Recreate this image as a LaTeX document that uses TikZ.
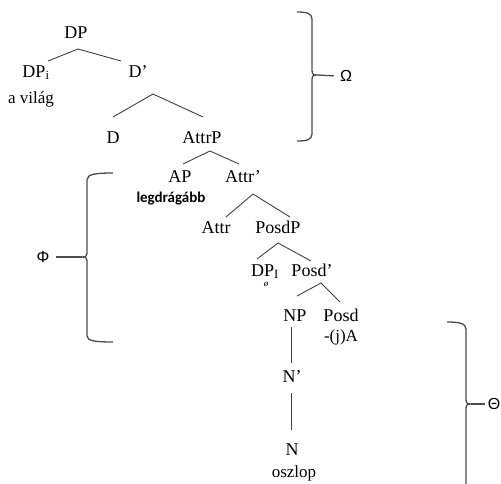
\documentclass[tikz,border=0pt]{standalone}
\usepackage{fontspec}
\setmainfont{Liberation Serif}
\newfontfamily\greekfont{Liberation Sans}
\newfontfamily\notefont{Carlito}
\usepackage{tikz}

\begin{document}
\begin{tikzpicture}[x=1pt,y=-1pt,
		cat/.style={anchor=base,inner sep=0pt,font=\fontsize{18}{20}\selectfont},
		word/.style={anchor=base,inner sep=0pt,font=\fontsize{17}{20}\selectfont},
		note/.style={anchor=base,inner sep=0pt,font=\notefont\bfseries\fontsize{15}{17}\selectfont},
		greek/.style={inner sep=2pt,font=\greekfont\fontsize{16}{18}\selectfont},
		branch/.style={draw=black!75,line width=0.9pt},
		brace/.style={draw=black!70,line width=1.3pt}]
	
	\useasboundingbox (0,0) rectangle (501,483);
	
	% tree
	\node[cat] (dp) at (76,38) {DP};
	\node[cat] (dpi) at (36,77) {DP\textsubscript{i}};
	\node[word] (vilag) at (31,103) {a világ};
	\node[cat] (dbar) at (138,77) {D’};
	\node[cat] (d) at (113,143) {D};
	\node[cat] (attrp) at (202,143) {AttrP};
	\node[cat] (ap) at (180,182) {AP};
	\node[note] (legd) at (171,202) {legdrágább};
	\node[cat] (attrbar) at (243,182) {Attr’};
	\node[cat] (attr) at (216,233) {Attr};
	\node[cat] (posdp) at (278,233) {PosdP};
	\node[cat] (dpone) at (265,276) {DP\textsubscript{I}};
	\node[anchor=base,inner sep=0pt,font=\itshape\fontsize{9}{10}\selectfont] (null) at (266,286) {ø};
	\node[cat] (posdbar) at (312,276) {Posd’};
	\node[cat] (np) at (295,321) {NP};
	\node[cat] (posd) at (341,321) {Posd};
	\node[word] (ja) at (341,341) {-(j)A};
	\node[cat] (nbar) at (292,382) {N’};
	\node[cat] (n) at (292,455) {N};
	\node[word] (oszlop) at (294,477) {oszlop};
	
	\draw[branch] ([xshift=12pt,yshift=16pt]dpi.base) -- ([xshift=2pt,yshift=-11pt]dp.base) -- ([xshift=-17pt,yshift=16pt]dbar.base);
	\draw[branch] ([yshift=26pt]d.base) -- ([xshift=15pt,yshift=-17pt]dbar.base) -- ([xshift=1pt,yshift=26pt]attrp.base);
	\draw[branch] ([xshift=3pt,yshift=18pt]ap.base) -- ([xshift=8pt,yshift=-8pt]attrp.base) -- ([xshift=-4pt,yshift=18pt]attrbar.base);
	\draw[branch] ([xshift=10pt,yshift=16pt]attr.base) -- ([xshift=10pt,yshift=-12pt]attrbar.base) -- ([xshift=12pt,yshift=16pt]posdp.base);
	\draw[branch] ([xshift=-8pt,yshift=17pt]dpone.base) -- ([yshift=-10pt]posdp.base) -- ([xshift=-1pt,yshift=15pt]posdbar.base);
	\draw[branch] ([xshift=2pt,yshift=25pt]np.base) -- ([xshift=9pt,yshift=-7pt]posdbar.base) -- ([xshift=-1pt,yshift=19pt]posd.base);
	\draw[branch] ([xshift=-4pt,yshift=-6pt]np.base) -- ([xshift=-1pt,yshift=19pt]nbar.base);
	\draw[branch] ([xshift=-1pt,yshift=-11pt]nbar.base) -- ([xshift=-1pt,yshift=25pt]n.base);
	
	% braces
	\node[greek] (omega) at (346,76) {Ω};
	\coordinate (otip) at (317,75);
	\draw[brace] (297,12) .. controls (306,12) and (312,13) .. (312,19) -- (312,70)
		.. controls (312,74) and (313,75) .. (otip) .. controls (313,75) and (312,76) .. (312,80)
		-- (312,134) .. controls (312,140) and (306,141) .. (297,141);
	\draw[brace,shorten >=4pt] (otip) -- (omega.west);
	
	\node[greek] (phi) at (43,257) {Φ};
	\coordinate (ptip) at (82,257);
	\draw[brace] (113,173) .. controls (96,173) and (87,174) .. (87,180) -- (87,252)
		.. controls (87,256) and (86,257) .. (ptip) .. controls (86,257) and (87,258) .. (87,262)
		-- (87,336) .. controls (87,341) and (96,342) .. (113,342);
	\draw[brace,shorten >=4pt] (ptip) -- (phi.east);
	
	\node[greek] (theta) at (494,404) {Θ};
	\coordinate (ttip) at (471,404);
	\draw[brace] (447,322) .. controls (458,322) and (466,323) .. (466,329) -- (466,399)
		.. controls (466,403) and (467,404) .. (ttip) .. controls (467,404) and (466,405) .. (466,409)
		-- (466,490);
	\draw[brace,shorten >=1pt] (ttip) -- (theta.west);
	
\end{tikzpicture}
\end{document}
